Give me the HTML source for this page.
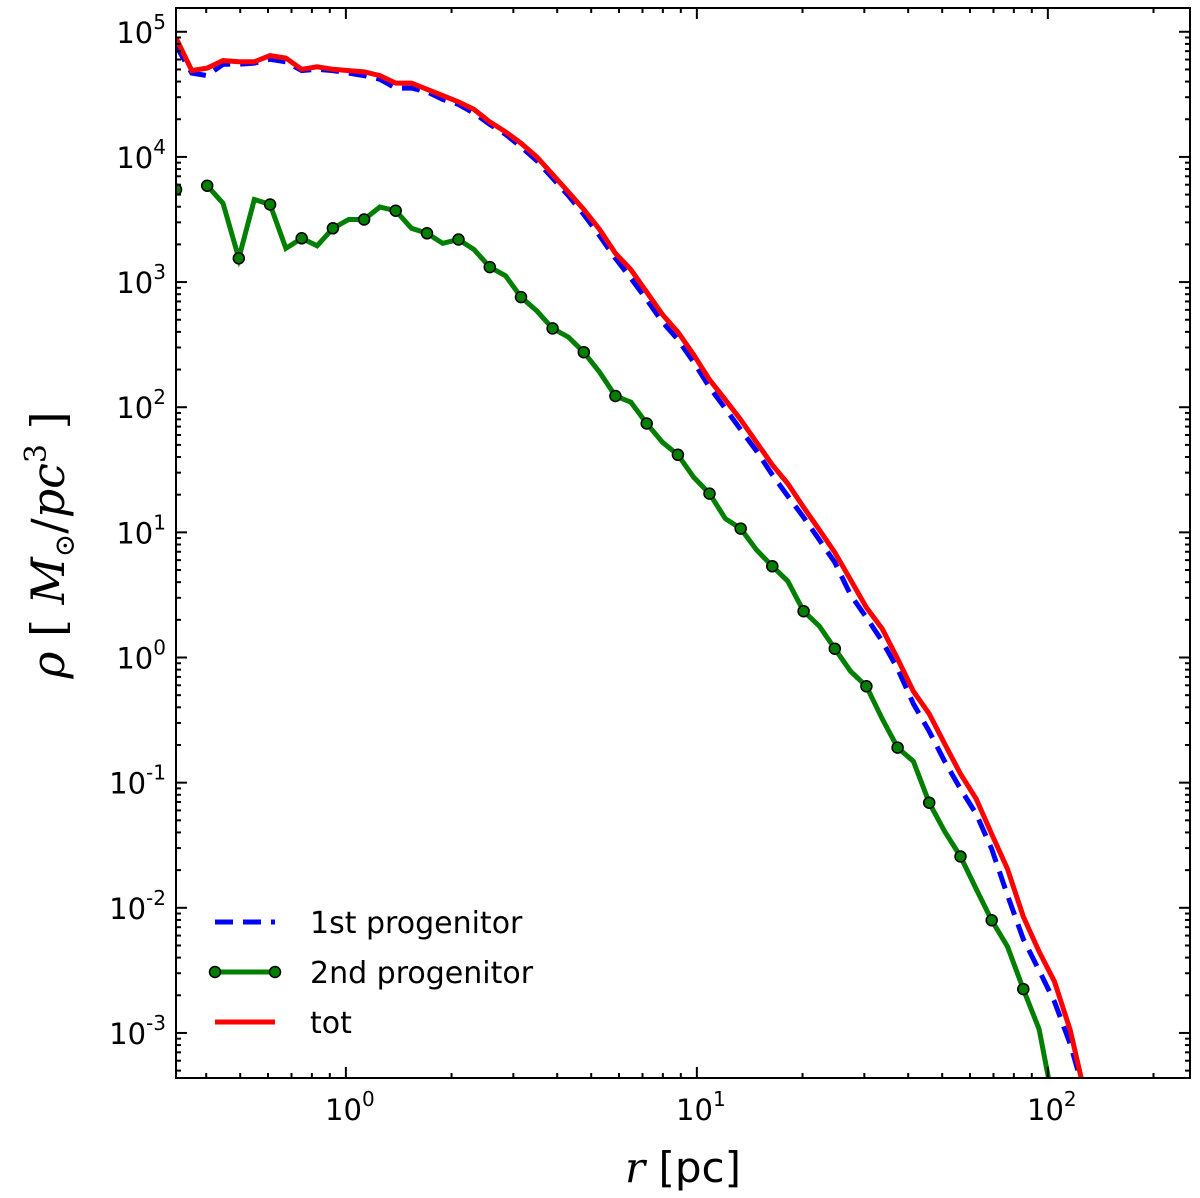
<!DOCTYPE html>
<html><head><meta charset="utf-8"><style>
html,body{margin:0;padding:0;background:#fff;}
svg{display:block;font-family:"DejaVu Sans","Liberation Sans",sans-serif;}
</style></head><body>
<svg id="chart" width="1200" height="1198" viewBox="0 0 1200 1198" xmlns="http://www.w3.org/2000/svg">
<defs><clipPath id="clip"><rect x="176" y="8" width="1014" height="1070"/></clipPath></defs>
<rect x="0" y="0" width="1200" height="1198" fill="#fff"/>
<g id="series" clip-path="url(#clip)"></g>
<g id="axes"></g>
<rect x="176" y="8" width="1014" height="1070" fill="none" stroke="#000" stroke-width="2"/>
<text x="683" y="1182" text-anchor="middle" font-size="42"><tspan font-family="DejaVu Serif, serif" font-style="italic">r</tspan> [pc]</text>
<text transform="translate(64,545) rotate(-90)" text-anchor="middle" font-size="46" font-family="DejaVu Serif, serif"><tspan font-style="italic">ρ</tspan> [ <tspan font-style="italic">M</tspan><tspan font-size="28" dy="10">⊙</tspan><tspan dy="-10">/</tspan><tspan font-style="italic">pc</tspan><tspan font-size="30" dy="-18">3</tspan><tspan dy="18"> ]</tspan></text>
<g>
<line x1="215" y1="922" x2="275" y2="922" stroke="#0000ff" stroke-width="5" stroke-dasharray="18,10"/>
<text x="310" y="933" font-size="30">1st progenitor</text>
<line x1="215" y1="972" x2="275" y2="972" stroke="#007f00" stroke-width="5"/>
<circle cx="215" cy="972" r="5.5" fill="#007f00" stroke="#000" stroke-width="1.5"/>
<circle cx="275" cy="972" r="5.5" fill="#007f00" stroke="#000" stroke-width="1.5"/>
<text x="310" y="983" font-size="30">2nd progenitor</text>
<line x1="215" y1="1022" x2="275" y2="1022" stroke="#ff0000" stroke-width="5"/>
<text x="310" y="1033" font-size="30">tot</text>
</g>
</svg>
<script>
const rLog = [-0.484,-0.439,-0.395,-0.350,-0.305,-0.261,-0.216,-0.171,-0.126,-0.082,-0.037,0.008,0.052,0.097,0.142,0.187,0.231,0.276,0.321,0.365,0.410,0.455,0.499,0.544,0.589,0.634,0.678,0.723,0.768,0.812,0.857,0.902,0.946,0.991,1.036,1.081,1.125,1.170,1.215,1.259,1.304,1.349,1.393,1.438,1.483,1.528,1.572,1.617,1.662,1.706,1.751,1.796,1.840,1.885,1.930,1.975,2.019,2.064,2.109];
const totLog = [4.95,4.69,4.71,4.77,4.76,4.76,4.81,4.79,4.70,4.72,4.70,4.69,4.68,4.65,4.59,4.59,4.54,4.49,4.44,4.38,4.28,4.20,4.11,4.00,3.86,3.72,3.58,3.42,3.23,3.10,2.92,2.74,2.60,2.42,2.22,2.06,1.90,1.72,1.54,1.39,1.20,1.02,0.84,0.62,0.40,0.23,-0.01,-0.27,-0.45,-0.69,-0.93,-1.13,-1.41,-1.69,-2.07,-2.35,-2.59,-2.98,-3.53];
const firstLog = [4.89,4.67,4.65,4.74,4.74,4.75,4.78,4.76,4.69,4.70,4.69,4.67,4.65,4.62,4.55,4.55,4.52,4.46,4.42,4.35,4.26,4.18,4.08,3.97,3.83,3.69,3.54,3.37,3.19,3.03,2.86,2.68,2.54,2.36,2.16,1.99,1.82,1.65,1.46,1.29,1.12,0.94,0.76,0.50,0.32,0.13,-0.09,-0.37,-0.59,-0.83,-1.05,-1.25,-1.53,-1.90,-2.25,-2.50,-2.75,-3.09,-3.53];
const secondLog = [3.74,null,3.77,3.63,3.19,3.66,3.62,3.27,3.35,3.29,3.43,3.50,3.50,3.60,3.57,3.43,3.39,3.31,3.34,3.26,3.12,3.05,2.88,2.77,2.63,2.56,2.44,2.28,2.09,2.04,1.87,1.72,1.62,1.44,1.31,1.11,1.03,0.86,0.73,0.61,0.37,0.25,0.07,-0.11,-0.23,-0.49,-0.72,-0.83,-1.16,-1.39,-1.59,-1.85,-2.10,-2.31,-2.65,-2.97,-3.61];
const yTickExp = [-3,-2,-1,0,1,2,3,4,5];
const xTickExp = [0,1,2];

const NS = "http://www.w3.org/2000/svg";
const X0 = 176, X1 = 1190, Y0 = 8, Y1 = 1078;
const xMin = -0.484, xMax = 2.405, yMin = -3.36, yMax = 5.19;
function xs(l){ return X0 + (l - xMin) / (xMax - xMin) * (X1 - X0); }
function ys(l){ return Y1 - (l - yMin) / (yMax - yMin) * (Y1 - Y0); }
function mk(tag, attrs, parent){ const e = document.createElementNS(NS, tag); for (const k in attrs) e.setAttribute(k, attrs[k]); parent.appendChild(e); return e; }
const series = document.getElementById('series');
const axes = document.getElementById('axes');

function drawLine(vals, color, dash, name){
  let d = '', pen = false;
  for (let i = 0; i < vals.length; i++){
    const v = vals[i];
    if (v === null || v === undefined){ pen = false; continue; }
    d += (pen ? 'L' : 'M') + xs(rLog[i]).toFixed(1) + ' ' + ys(v).toFixed(1);
    pen = true;
  }
  const p = mk('path', {d: d, fill: 'none', stroke: color, 'stroke-width': 5}, series);
  if (dash) p.setAttribute('stroke-dasharray', dash);
  
  
}
drawLine(firstLog, '#0000ff', '18,10', 'line-1st-progenitor');
drawLine(secondLog, '#007f00', null, 'line-2nd-progenitor');
drawLine(totLog, '#ff0000', null, 'line-tot');
for (let i = 0; i < secondLog.length; i += 2){
  if (secondLog[i] === null) continue;
  const c = mk('circle', {cx: xs(rLog[i]).toFixed(1), cy: ys(secondLog[i]).toFixed(1), r: 5.5, fill: '#007f00', stroke: '#000', 'stroke-width': 1.5}, series);
  
  
}

for (let e = -4; e <= 5; e++){
  for (let m = 1; m <= 9; m++){
    const l = e + Math.log10(m);
    if (l < yMin || l > yMax) continue;
    const y = ys(l), len = m === 1 ? 11 : 5;
    const t1 = mk('line', {x1: X0, x2: X0 + len, y1: y, y2: y, stroke: '#000', 'stroke-width': 2}, axes);
    
    
    const t2 = mk('line', {x1: X1, x2: X1 - len, y1: y, y2: y, stroke: '#000', 'stroke-width': 2}, axes);
    
    
  }
}
yTickExp.forEach(e => {
  const t = mk('text', {x: 166, y: ys(e) + 11, 'text-anchor': 'end', 'font-size': 29}, axes);
  t.innerHTML = '10<tspan font-size="20" dy="-14">' + (e < 0 ? '-' + (-e) : e) + '</tspan>';
  
  
});
for (let e = -1; e <= 2; e++){
  for (let m = 1; m <= 9; m++){
    const l = e + Math.log10(m);
    if (l < xMin || l > xMax) continue;
    const x = xs(l), len = m === 1 ? 11 : 5;
    const t1 = mk('line', {x1: x, x2: x, y1: Y1, y2: Y1 - len, stroke: '#000', 'stroke-width': 2}, axes);
    
    
    const t2 = mk('line', {x1: x, x2: x, y1: Y0, y2: Y0 + len, stroke: '#000', 'stroke-width': 2}, axes);
    
    
  }
}
xTickExp.forEach(e => {
  const t = mk('text', {x: xs(e) + 4, y: 1120, 'text-anchor': 'middle', 'font-size': 29}, axes);
  t.innerHTML = '10<tspan font-size="20" dy="-14">' + e + '</tspan>';
  
  
});
</script>
</body></html>
